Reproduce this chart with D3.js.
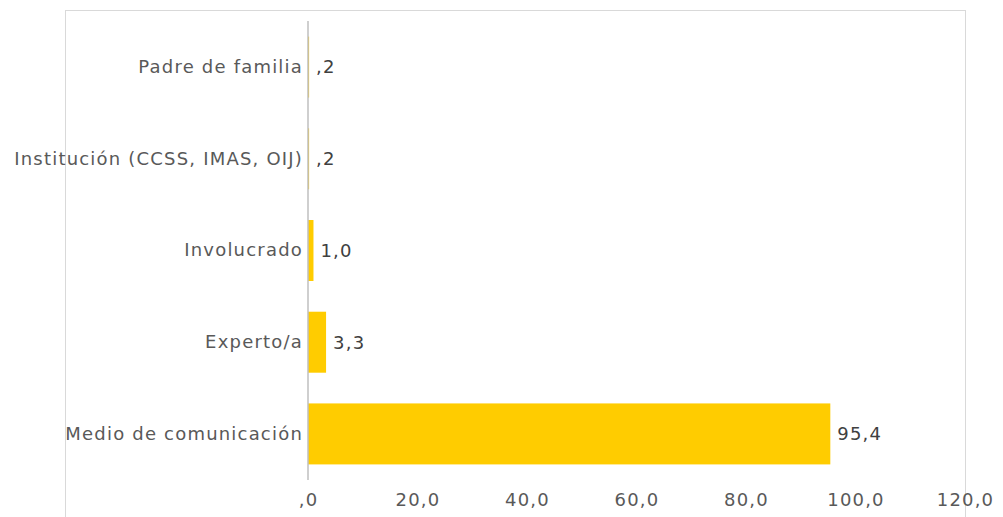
<!DOCTYPE html>
<html>
<head>
<meta charset="utf-8">
<script src="https://cdn.jsdelivr.net/npm/d3@7"></script>
<style>
  body { margin: 0; background: #fff; }
  text { font-family: "DejaVu Sans", sans-serif; }
</style>
</head>
<body>
<div id="canvas"></div>
<script>
var categories = ['Padre de familia', 'Institución (CCSS, IMAS, OIJ)', 'Involucrado', 'Experto/a', 'Medio de comunicación'];
var values = [0.2, 0.2, 1.0, 3.3, 95.4];
var xTicks = [0, 20, 40, 60, 80, 100, 120];

var W = 1003, H = 517;
var m = {t: 21, r: 38, b: 37, l: 308};

var svg = d3.select('#canvas')
    .append('svg')
    .attr('width', W)
    .attr('height', H);

// chart frame (runs off the bottom of the picture)
svg.append('rect')
    .attr('x', 65.5).attr('y', 10.5)
    .attr('width', 900).attr('height', 540)
    .attr('fill', 'none')
    .attr('stroke', '#d9d9d9');

var x = d3.scaleLinear().domain([0, 120]).range([m.l, W - m.r]);
var y = d3.scaleBand().domain(categories).range([m.t, H - m.b]).paddingInner(0.335).paddingOuter(0.17);

// spanish number format: comma decimal, no leading zero
function fmt(v) {
    var s = d3.format('.1f')(v).replace('.', ',');
    return s.replace(/^0,/, ',');
}

svg.selectAll('.bar')
    .data(values)
    .enter().append('rect')
    .attr('class', 'bar')
    .attr('x', x(0))
    .attr('y', function(d, i) { return y(categories[i]); })
    .attr('width', function(d) { return Math.max(1, x(d) - x(0)); })
    .attr('height', y.bandwidth())
    .attr('fill', '#ffcc00');

// category axis
var yAxis = svg.append('g')
    .attr('transform', 'translate(' + x(0) + ',0)')
    .call(d3.axisLeft(y).tickSize(0).tickPadding(5));
yAxis.select('.domain').attr('stroke', '#bfbfbf').attr('stroke-width', 1.5)
    .attr('d', 'M0,' + m.t + 'V' + (H - m.b));
yAxis.selectAll('text').attr('fill', '#595959').style('font-size', '18px')
    .style('letter-spacing', '1.2px')
    .attr('font-family', '"DejaVu Sans", sans-serif');

// value axis labels only
var xAxis = svg.append('g')
    .attr('transform', 'translate(0,' + (H - m.b) + ')')
    .call(d3.axisBottom(x).tickValues(xTicks).tickFormat(fmt).tickSize(0).tickPadding(13));
xAxis.select('.domain').remove();
xAxis.selectAll('text').attr('fill', '#595959').style('font-size', '18px')
    .style('letter-spacing', '1.2px')
    .attr('font-family', '"DejaVu Sans", sans-serif');

// data labels
svg.selectAll('.lbl')
    .data(values)
    .enter().append('text')
    .attr('class', 'lbl')
    .attr('x', function(d) { return Math.max(x(d), x(0) + 1) + 7; })
    .attr('y', function(d, i) { return y(categories[i]) + y.bandwidth() / 2; })
    .attr('dy', '0.35em')
    .attr('fill', '#404040')
    .style('font-size', '18px')
    .style('letter-spacing', '1.2px')
    .text(fmt);
</script>
</body>
</html>
